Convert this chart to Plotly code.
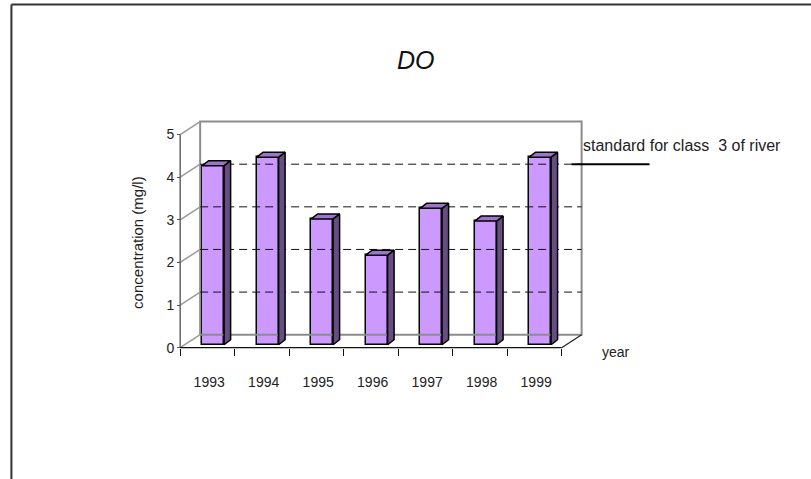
import plotly.graph_objects as go

# ---------------- data ----------------
years = ["1993", "1994", "1995", "1996", "1997", "1998", "1999"]
do_values = [4.2, 4.4, 2.95, 2.1, 3.2, 2.9, 4.4]
standard_value = 4.0
y_ticks = [0, 1, 2, 3, 4, 5]
y_max = 5

# ---------------- layout geometry ----------------
W, H = 811, 479
X0PX, UX = 180.0, 54.57     # pixel of x=0, pixels per category
Y0PX, UY = 348.0, 42.6      # pixel of y=0, pixels per mg/l
XR = (-0.04, 8.75)
YR = (-0.03, 5.6)
plot_w = (XR[1] - XR[0]) * UX
plot_h = (YR[1] - YR[0]) * UY
ml = X0PX + XR[0] * UX
mr = W - ml - plot_w
mb = H - (Y0PX - YR[0] * UY)
mt = H - mb - plot_h


def pxx(px):
    return (px - ml) / plot_w


def pxy(py):
    return (H - mb - py) / plot_h


n = len(years)
DX, DY = 20 / UX, 13 / UY          # depth of the 3-D box
BAR_OFF, BAR_W = 22 / UX, 22 / UX  # bar front face offset/width in category
BAR_BASE = 3 / UY
BDX, BDY = 6.5 / UX, 5 / UY        # bar depth

FONT = "Liberation Sans, Arial, sans-serif"
FRONT = "#CC99FF"
SIDE = "#674E82"
TOP = "#9C74CC"

fig = go.Figure()


def seg_trace(xs, ys, color, width, dash="solid"):
    return go.Scatter(x=xs, y=ys, mode="lines", line=dict(color=color, width=width, dash=dash),
                      hoverinfo="skip", showlegend=False)


# back wall rectangle
fig.add_trace(seg_trace([DX, n + DX, n + DX, DX, DX],
                        [DY, DY, y_max + DY, y_max + DY, DY], "#8C8C8C", 2))
# left-wall diagonals (floor, top, tick levels)
xs, ys = [], []
for v in y_ticks:
    xs += [0, DX, None]
    ys += [v, v + DY, None]
fig.add_trace(seg_trace(xs, ys, "#9A9A9A", 1.5))
# right floor diagonal
fig.add_trace(seg_trace([n, n + DX], [0, DY], "#222222", 1.2))
# dashed gridlines on back wall
xs, ys = [], []
for v in y_ticks[1:-1]:
    xs += [DX, n + DX, None]
    ys += [v + DY, v + DY, None]
fig.add_trace(seg_trace(xs, ys, "#111111", 1, dash="8px,5px"))
# front axes lines
fig.add_trace(seg_trace([0, 0], [0, y_max], "#666666", 1.5))
fig.add_trace(seg_trace([0, n], [0, 0], "#111111", 1.3))

# bars (front faces)
centers = [i + BAR_OFF + BAR_W / 2 for i in range(n)]
fig.add_trace(go.Bar(x=centers, y=do_values, base=[BAR_BASE] * n, width=BAR_W,
                     marker=dict(color=FRONT, line=dict(color="#000000", width=1.5)),
                     hoverinfo="skip", showlegend=False))

# side and top faces
sx, sy, tx, ty = [], [], [], []
for i, v in enumerate(do_values):
    xl = i + BAR_OFF
    xr = xl + BAR_W
    b = BAR_BASE
    t = BAR_BASE + v
    sx += [xr, xr + BDX, xr + BDX, xr, xr, None]
    sy += [b, b + BDY, t + BDY, t, b, None]
    tx += [xl, xl + BDX, xr + BDX, xr, xl, None]
    ty += [t, t + BDY, t + BDY, t, t, None]
fig.add_trace(go.Scatter(x=sx, y=sy, mode="lines", fill="toself", fillcolor=SIDE,
                         line=dict(color="#000000", width=1.5), hoverinfo="skip", showlegend=False))
fig.add_trace(go.Scatter(x=tx, y=ty, mode="lines", fill="toself", fillcolor=TOP,
                         line=dict(color="#000000", width=1.5), hoverinfo="skip", showlegend=False))

# standard line
fig.add_trace(seg_trace([n + DX - 10 / UX, n + DX + 68 / UX],
                        [standard_value + DY, standard_value + DY], "#000000", 2))

# ---------------- layout ----------------
fig.update_layout(
    width=W, height=H,
    margin=dict(l=ml, r=mr, t=mt, b=mb, pad=0, autoexpand=False),
    paper_bgcolor="white", plot_bgcolor="white",
    hovermode=False, showlegend=False, bargap=0,
    font=dict(family=FONT, color="#222222"),
    xaxis=dict(range=list(XR), anchor="free", position=pxy(Y0PX),
               tickmode="array", tickvals=list(range(n + 1)), ticktext=years + [""],
               ticks="outside", ticklen=7, tickwidth=1.2, tickcolor="#111111",
               ticklabelshift=int(round(UX / 2 + 2.2)), ticklabelstandoff=14,
               tickfont=dict(size=14, family=FONT, color="#222222"),
               showgrid=False, zeroline=False, showline=False, automargin=False),
    yaxis=dict(range=list(YR), anchor="free", position=pxx(X0PX),
               tickmode="array", tickvals=y_ticks,
               ticks="outside", ticklen=3, tickcolor="#555555",
               tickfont=dict(size=14, family=FONT, color="#222222"),
               showgrid=False, zeroline=False, showline=False, automargin=False),
    annotations=[
        dict(text="DO", xref="paper", yref="paper", x=pxx(416), y=pxy(60),
             xanchor="center", yanchor="middle", showarrow=False,
             font=dict(size=25, family=FONT, style="italic", color="#111111")),
        dict(text="concentration (mg/l)", xref="paper", yref="paper", x=pxx(137), y=pxy(243),
             xanchor="center", yanchor="middle", textangle=-90, showarrow=False,
             font=dict(size=15, family=FONT, color="#222222")),
        dict(text="year", xref="paper", yref="paper", x=pxx(600), y=pxy(352),
             xanchor="left", yanchor="middle", showarrow=False,
             font=dict(size=14, family=FONT, color="#222222")),
        dict(text="standard for class\u00a0 3 of river", xref="paper", yref="paper",
             x=pxx(581), y=pxy(146), xanchor="left", yanchor="middle", showarrow=False,
             font=dict(size=16, family=FONT, color="#222222")),
    ],
    shapes=[
        dict(type="line", xref="paper", yref="paper", x0=pxx(11), y0=pxy(5), x1=pxx(815), y1=pxy(5),
             line=dict(color="#333333", width=2)),
        dict(type="line", xref="paper", yref="paper", x0=pxx(11), y0=pxy(5), x1=pxx(11), y1=pxy(485),
             line=dict(color="#333333", width=2)),
    ],
)

fig.write_html("out.html")
